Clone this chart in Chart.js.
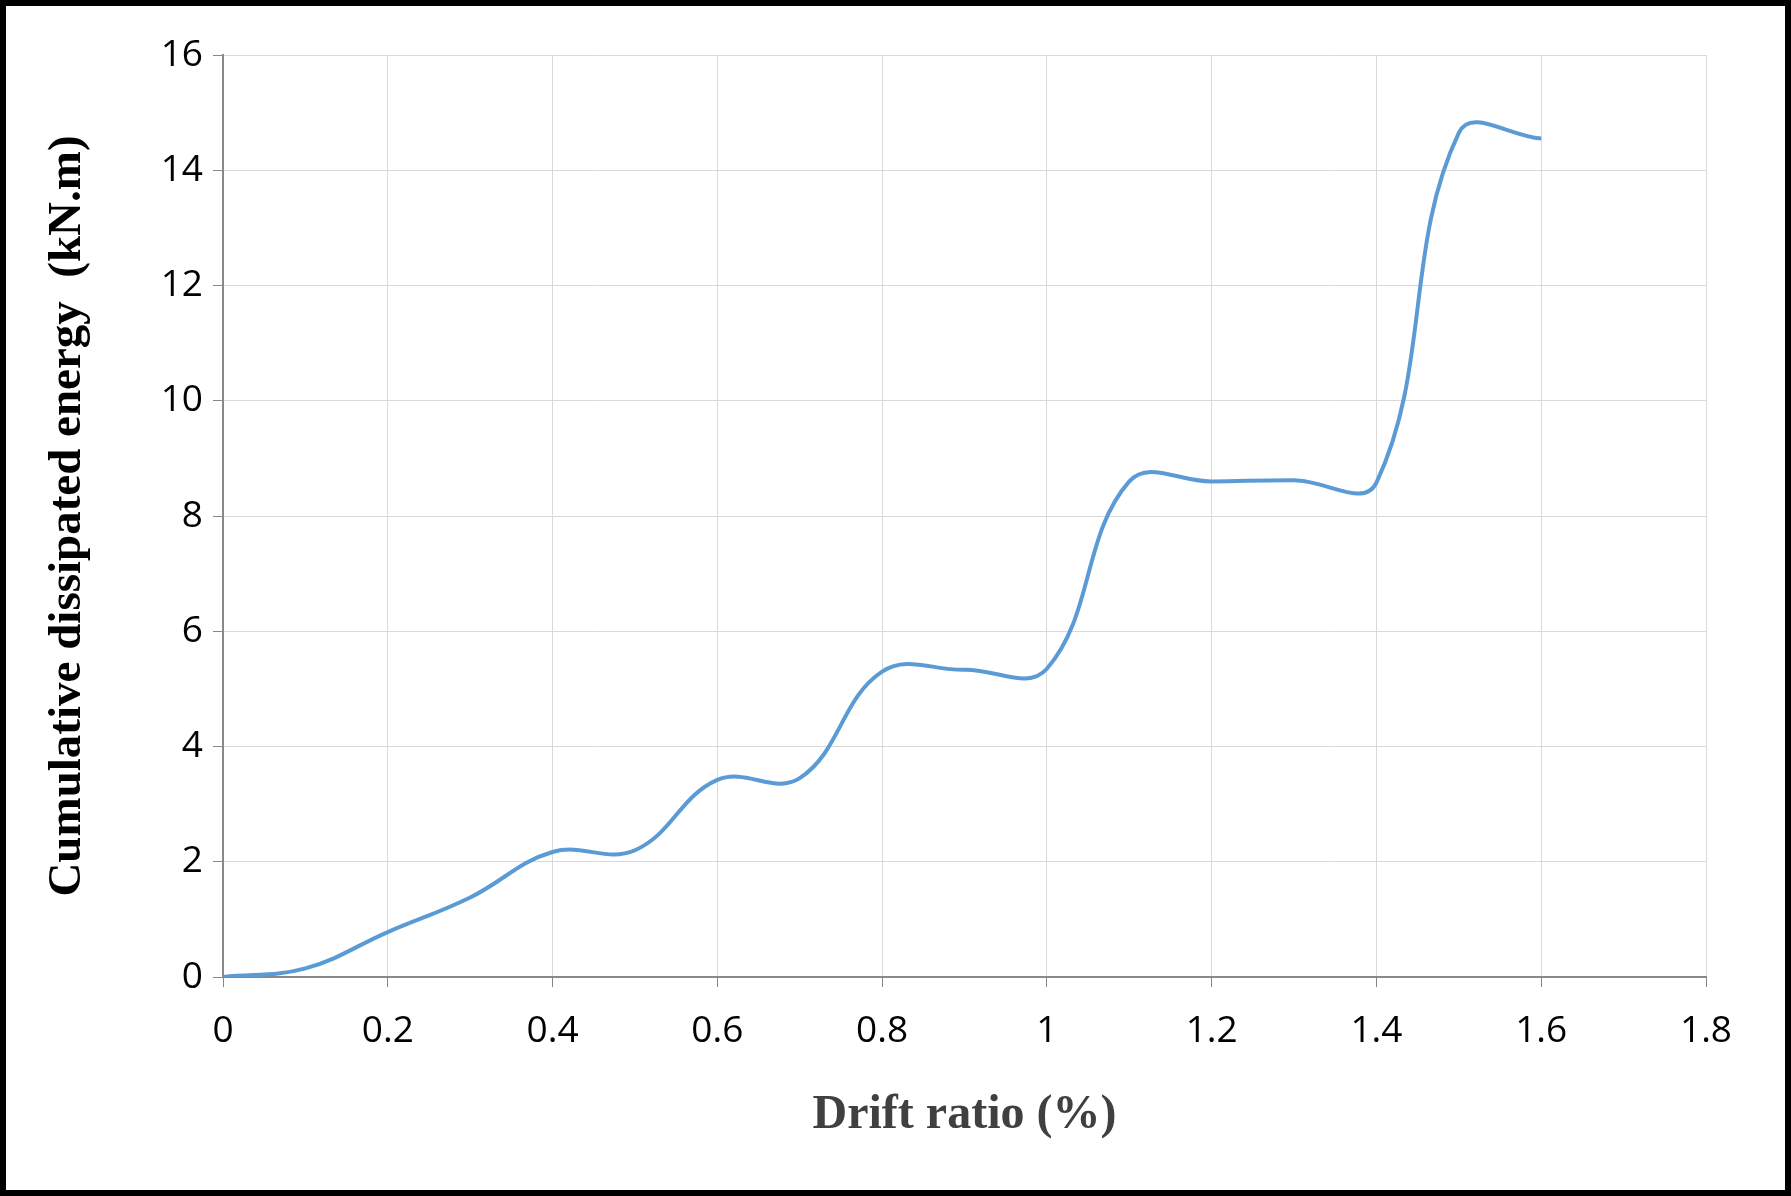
<!DOCTYPE html>
<html><head><meta charset="utf-8">
<script src="https://cdn.jsdelivr.net/npm/chart.js@4"></script>
<style>
html,body{margin:0;padding:0;background:#fff;}
#wrap{position:absolute;left:0;top:0;width:1791px;height:1196px;box-sizing:border-box;border:6px solid #000;}
canvas{position:absolute;left:0;top:0;}
</style></head><body>
<div id="wrap"></div>
<canvas id="c" width="1791" height="1196"></canvas>
<script>
const driftRatio = [0,0.1,0.2,0.3,0.4,0.5,0.6,0.7,0.8,0.9,1.0,1.1,1.2,1.3,1.4,1.5,1.6];
const energy =     [0,0.15,0.78,1.38,2.17,2.2,3.42,3.45,5.3,5.33,5.35,8.6,8.6,8.62,8.58,14.65,14.55];
const xTitle = 'Drift ratio (%)';
const yTitle = 'Cumulative dissipated energy  (kN.m)';
const pts = driftRatio.map((x,i)=>({x, y: energy[i]}));
new Chart(document.getElementById('c'), {
  type: 'line',
  data: { datasets: [{ data: pts, borderColor: '#5B9BD5', borderWidth: 4, pointRadius: 0, tension: 0.4, fill: false }] },
  options: {
    responsive: false, animation: false,
    layout: { padding: { left: 36, right: 85, top: 55, bottom: 48 } },
    plugins: { legend: { display: false }, tooltip: { enabled: false } },
    scales: {
      x: { type: 'linear', min: 0, max: 1.8,
        ticks: { stepSize: 0.2, color: '#000', font: { family: 'Open Sans', size: 37 }, padding: 22, callback: v => Math.round(v*10)/10 },
        grid: { color: '#d9d9d9', lineWidth: 1, tickLength: 10, tickColor: '#888' },
        border: { color: '#888', width: 2 },
        title: { display: true, text: xTitle, color: '#404040', font: { family: 'Liberation Serif', weight: 'bold', size: 48 }, padding: { top: 20 } },
        afterFit: s => { s.height = 1196 - 977 - 48; }
      },
      y: { min: 0, max: 16,
        ticks: { stepSize: 2, color: '#000', font: { family: 'Open Sans', size: 37 }, padding: 10 },
        grid: { color: '#d9d9d9', lineWidth: 1, tickLength: 10, tickColor: '#888' },
        border: { color: '#888', width: 2 },
        title: { display: true, text: yTitle, color: '#000', font: { family: 'Liberation Serif', weight: 'bold', size: 47 }, padding: { bottom: 8 } },
        afterFit: s => { s.width = 223 - 36; }
      }
    }
  }
});
</script></body></html>
